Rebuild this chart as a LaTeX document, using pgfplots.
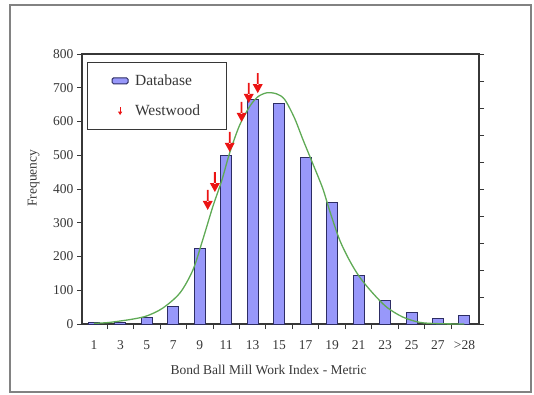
\documentclass[border=0pt]{standalone}
\usepackage{fontspec}
\setmainfont{Liberation Serif}
\usepackage{pgfplots}
\pgfplotsset{compat=1.18}
\usetikzlibrary{arrows.meta}
\definecolor{barfill}{RGB}{152,152,250}
\definecolor{baredge}{RGB}{45,45,100}
\definecolor{curvegreen}{RGB}{95,170,85}
\definecolor{axisgray}{RGB}{55,55,55}
\definecolor{framegray}{RGB}{130,130,130}
\definecolor{arrowred}{RGB}{235,20,20}
\pgfdeclareplotmark{downarrow}{%
  \pgfsetcolor{arrowred}%
  \pgfpathrectangle{\pgfqpoint{-0.9pt}{8pt}}{\pgfqpoint{1.8pt}{12pt}}%
  \pgfpathmoveto{\pgfqpoint{-5pt}{9pt}}%
  \pgfpathlineto{\pgfqpoint{5pt}{9pt}}%
  \pgfpathlineto{\pgfqpoint{0pt}{0pt}}%
  \pgfpathclose
  \pgfusepath{fill}}
\newcommand\tickfont{\fontsize{13.5}{15}\selectfont}
\begin{document}
\begin{tikzpicture}[x=1pt,y=1pt]
\path (0,0) rectangle (534,394);
\draw[framegray, line width=1.5pt] (10,2) rectangle (531,389);
\begin{axis}[at={(82pt,70pt)}, anchor=south west, width=397pt, height=270pt, scale only axis,
  xmin=-0.45, xmax=14.55, ymin=0, ymax=800,
  xtick={0.5,1.5,...,13.5}, xticklabels={},
  extra x ticks={0,1,...,14},
  extra x tick labels={1,3,5,7,9,11,13,15,17,19,21,23,25,27,{>28}},
  extra x tick style={major tick length=0pt},
  xticklabel style={yshift=-13pt},
  ytick={0,100,...,800}, ytick pos=left, xtick pos=bottom,
  tick align=outside, major tick length=5pt,
  tick style={axisgray, line width=1pt},
  axis line style={axisgray, line width=1.6pt},
  ticklabel style={font=\tickfont, text=axisgray},
  /pgf/number format/assume math mode=true,
  xlabel={Bond Ball Mill Work Index - Metric},
  ylabel={Frequency},
  label style={font=\tickfont, text=axisgray},
  xlabel style={at={(axis description cs:0.47,-0.17)}, anchor=center},
  ylabel style={at={(axis description cs:-0.122,0.54)}, anchor=center},
  legend style={at={(0.0126,0.970)}, anchor=north west, draw=axisgray, line width=1.2pt,
    font=\fontsize{15.5}{17}\selectfont, inner xsep=24pt, inner ysep=10pt, row sep=14pt,
    cells={anchor=west}, text=axisgray},
]
\addplot[ybar, bar width=11pt, fill=barfill, draw=baredge, line width=1pt,
  legend image code/.code={\draw[draw=none, fill=none] (0pt,0pt) -- (21pt,0pt);\draw[fill=barfill, draw=baredge, line width=1pt, rounded corners=1.5pt] (0pt,-3pt) rectangle (16pt,3pt);}]
  coordinates {(0,3) (1,5) (2,19) (3,53) (4,225) (5,498) (6,664) (7,652) (8,492) (9,359) (10,145) (11,71) (12,33) (13,15) (14,24)};
\addlegendentry{Database}
\addplot[curvegreen, line width=1.3pt, smooth, forget plot] coordinates {
(0,2) (0.5,4) (1,9) (1.5,15) (2.0,24) (2.6,47) (3.25,92) (3.74,160) (4.11,249) (4.49,347) (4.83,425)
(5.13,507) (5.5,588) (5.89,645) (6.19,673) (6.53,685) (6.9,682) (7.21,665) (7.58,610) (7.89,548)
(8.26,477) (8.64,403) (8.91,335) (9.28,250) (9.66,188) (10.04,139) (10.53,92) (11.06,50) (11.66,21)
(12.3,5) (13,1) (14,0)};
\addplot[only marks, mark=downarrow, color=arrowred,
  legend image code/.code={\draw[draw=none, fill=none] (0pt,0pt) -- (21pt,0pt);\draw[arrowred, line width=1pt, -{Triangle[length=3.5pt,width=4pt]}] (8pt,4pt) -- (8pt,-4pt);}]
  coordinates {(4.30,338) (4.57,391) (5.13,510) (5.58,599) (5.85,655) (6.19,684)};
\addlegendentry{Westwood}
\end{axis}
\begin{axis}[at={(82pt,70pt)}, anchor=south west, width=397pt, height=270pt, scale only axis,
  xmin=-0.45, xmax=14.55, ymin=0, ymax=800,
  axis x line=none, axis y line*=right,
  ytick={0,80,...,800}, yticklabels={},
  tick align=outside, major tick length=5pt,
  tick style={axisgray, line width=1pt},
  axis line style={axisgray, line width=1.6pt}]
\addplot[draw=none] coordinates {(0,0) (1,1)};
\end{axis}
\end{tikzpicture}
\end{document}
